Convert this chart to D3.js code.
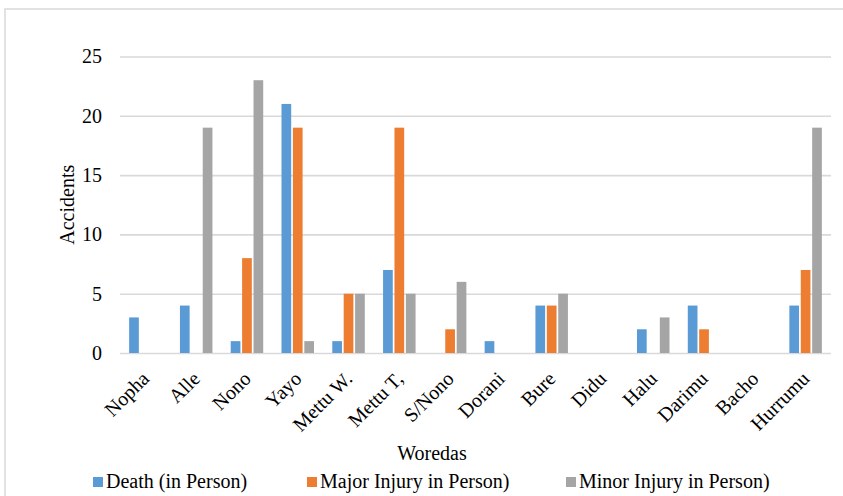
<!DOCTYPE html>
<html>
<head>
<meta charset="utf-8">
<script src="https://cdn.jsdelivr.net/npm/d3@7"></script>
<style>
  html, body { margin: 0; padding: 0; background: #fff; }
  svg { display: block; }
  text { font-family: "Liberation Serif", "Times New Roman", serif; fill: #000; }
</style>
</head>
<body>
<svg id="chart" width="843" height="496"></svg>
<script>
// Road traffic accident casualties per woreda
const woredas = ["Nopha", "Alle", "Nono", "Yayo", "Mettu W.", "Mettu T,", "S/Nono",
                 "Dorani", "Bure", "Didu", "Halu", "Darimu", "Bacho", "Hurrumu"];
const death = [3, 4, 1, 21, 1, 7, 0, 1, 4, 0, 2, 4, 0, 4];
const majorInjury = [0, 0, 8, 19, 5, 19, 2, 0, 4, 0, 0, 2, 0, 7];
const minorInjury = [0, 19, 23, 1, 5, 5, 6, 0, 5, 0, 3, 0, 0, 19];
const seriesNames = ["Death (in Person)", "Major Injury in Person)", "Minor Injury in Person)"];
const seriesColors = ["#5b9bd5", "#ed7d31", "#a5a5a5"];
const yTicks = [0, 5, 10, 15, 20, 25];

const seriesValues = [death, majorInjury, minorInjury];

const svg = d3.select("#chart");

// outer chart frame
svg.append("rect")
  .attr("x", 5).attr("y", 9)
  .attr("width", 860).attr("height", 520)
  .attr("fill", "none")
  .attr("stroke", "#d9d9d9")
  .attr("stroke-width", 1.5);

const plot = { left: 120, right: 831, top: 56.5, bottom: 353 };

const x = d3.scaleBand()
  .domain(woredas)
  .range([plot.left, plot.right])
  .paddingInner(0.36)
  .paddingOuter(0.18);

const xSub = d3.scaleBand()
  .domain(d3.range(seriesNames.length))
  .range([0, x.bandwidth()])
  .paddingInner(0.15);

const y = d3.scaleLinear().domain([0, 25]).range([plot.bottom, plot.top]);

// horizontal gridlines and value axis labels
const yAxis = d3.axisLeft(y)
  .tickValues(yTicks)
  .tickSize(-(plot.right - plot.left))
  .tickPadding(18)
  .tickFormat(d3.format("d"));

const gy = svg.append("g")
  .attr("transform", `translate(${plot.left},0)`)
  .call(yAxis);
gy.select(".domain").remove();
gy.selectAll(".tick line")
  .attr("stroke", "#d9d9d9")
  .attr("stroke-width", 1.6);
gy.selectAll(".tick text")
  .attr("font-size", 20)
  .attr("font-family", "Liberation Serif")
  .attr("fill", "#000");

// bars
const groups = svg.append("g")
  .selectAll("g")
  .data(woredas)
  .join("g")
  .attr("transform", d => `translate(${x(d)},0)`);

groups.selectAll("rect")
  .data((d, i) => seriesValues.map((vals, s) => ({ s, v: vals[i] })))
  .join("rect")
  .filter(d => d.v > 0)
  .attr("x", d => xSub(d.s))
  .attr("width", xSub.bandwidth())
  .attr("y", d => y(d.v))
  .attr("height", d => y(0) - y(d.v))
  .attr("fill", d => seriesColors[d.s]);

// category labels, rotated
const gx = svg.append("g")
  .attr("transform", `translate(0,${plot.bottom})`)
  .call(d3.axisBottom(x).tickSize(0).tickPadding(0));
gx.select(".domain").remove();
gx.selectAll(".tick text")
  .attr("font-size", 20)
  .attr("font-family", "Liberation Serif")
  .attr("fill", "#000")
  .attr("text-anchor", "end")
  .attr("dy", null)
  .attr("y", null)
  .attr("transform", "translate(5,27) rotate(-45)");

// axis titles
svg.append("text")
  .attr("x", 432).attr("y", 460)
  .attr("text-anchor", "middle")
  .attr("font-size", 20)
  .text("Woredas");

svg.append("text")
  .attr("transform", `translate(74,${(plot.top + plot.bottom) / 2}) rotate(-90)`)
  .attr("text-anchor", "middle")
  .attr("font-size", 20)
  .text("Accidents");

// legend
const legendX = [93, 307, 566];
const legend = svg.append("g")
  .selectAll("g")
  .data(seriesNames)
  .join("g")
  .attr("transform", (d, i) => `translate(${legendX[i]},477)`);
legend.append("rect")
  .attr("width", 10).attr("height", 10)
  .attr("fill", (d, i) => seriesColors[i]);
legend.append("text")
  .attr("x", 13).attr("y", 11)
  .attr("font-size", 20)
  .text(d => d);
</script>
</body>
</html>
